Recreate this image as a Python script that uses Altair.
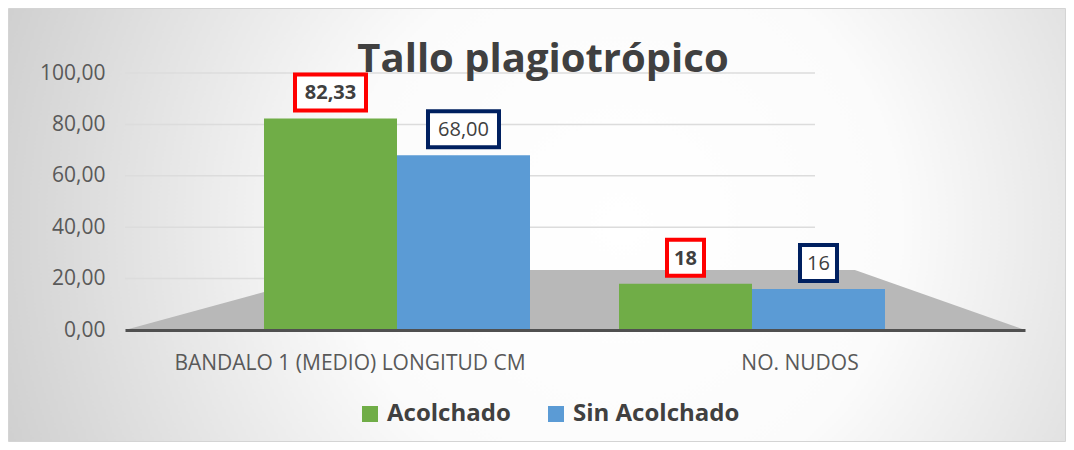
import altair as alt
import pandas as pd

# ---------------- data ----------------
categorias = ["BANDALO 1 (MEDIO) LONGITUD CM", "NO. NUDOS"]
series = ["Acolchado", "Sin Acolchado"]
acolchado = [82.33, 18]
sin_acolchado = [68.00, 16]
etiquetas_acolchado = ["82,33", "18"]
etiquetas_sin = ["68,00", "16"]
ticks_y = [0, 20, 40, 60, 80, 100]
titulo = "Tallo plagiotrópico"

rows = []
for i, c in enumerate(categorias):
    rows.append({"categoria": c, "serie": series[0], "valor": acolchado[i], "etiqueta": etiquetas_acolchado[i]})
    rows.append({"categoria": c, "serie": series[1], "valor": sin_acolchado[i], "etiqueta": etiquetas_sin[i]})
df = pd.DataFrame(rows)
grid_df = pd.DataFrame({"v": ticks_y[1:]})

# ---------------- styling ----------------
FONT = "Open Sans"
W, H = 900, 257
GREEN, BLUE = "#70AD47", "#5B9BD5"
TXT = "#404040"

y_scale = alt.Scale(domain=[0, 100], nice=False, zero=True)
yaxis = alt.Axis(values=ticks_y, title=None, labelExpr="replace(format(datum.value, '.2f'), '.', ',')",
                 labelFont=FONT, labelFontSize=21, labelColor="#595959", labelPadding=20,
                 ticks=False, tickSize=0, domain=False, grid=False, zindex=2)

x_bars = alt.X("categoria:N", scale=alt.Scale(type="band", domain=categorias, range=[94.5, 804.5],
                                               paddingInner=0, paddingOuter=0), axis=None)
xoff = alt.XOffset("serie:N", scale=alt.Scale(domain=series, paddingInner=0, paddingOuter=0.3346))

# background with radial gradient and border
bg = alt.Chart(alt.Data(values=[{}])).mark_rect(
    fill={"gradient": "radial", "x1": 0.58, "y1": 0.5, "r1": 0, "x2": 0.58, "y2": 0.5, "r2": 0.75,
          "stops": [{"offset": 0, "color": "#ffffff"}, {"offset": 0.35, "color": "#fbfbfb"},
                    {"offset": 1, "color": "#bfbfbf"}]},
    stroke="#d4d4d4", strokeWidth=1
).encode(x=alt.value(-116.5), x2=alt.value(940.5), y=alt.value(-64.5), y2=alt.value(368.5))

grid = alt.Chart(grid_df).mark_rule(color="#dcdcdc", strokeWidth=1.5).encode(
    y=alt.Y("v:Q", scale=y_scale, axis=yaxis), x=alt.value(0), x2=alt.value(690))

floor = alt.Chart(alt.Data(values=[{}])).mark_point(
    shape="M -1 0.0667 L -0.511 -0.0667 L 0.622 -0.0667 L 1 0.0667 Z", size=810000,
    filled=True, color="#b8b8b8", opacity=1, strokeWidth=0
).encode(x=alt.value(450), y=alt.value(227))

axis_layer = alt.Chart(df).mark_point(opacity=0).encode(
    x=alt.X("categoria:N", scale=alt.Scale(type="band", domain=categorias, paddingInner=0, paddingOuter=0),
            axis=alt.Axis(title=None, labelAngle=0, labelFont=FONT, labelFontSize=21, labelColor="#595959",
                          labelBaseline="alphabetic", labelPadding=39, ticks=False, tickSize=0,
                          domainColor="#505050", domainWidth=3, labelLimit=0, grid=False, zindex=2)),
    y=alt.Y("valor:Q", scale=y_scale, axis=yaxis))

bars = alt.Chart(df).mark_bar().encode(
    x=x_bars, xOffset=xoff,
    y=alt.Y("valor:Q", scale=y_scale, axis=yaxis),
    color=alt.Color("serie:N", scale=alt.Scale(domain=series, range=[GREEN, BLUE]),
                    legend=alt.Legend(orient="none", legendX=233, legendY=329, direction="horizontal",
                                      title=None, symbolType="square", symbolSize=256, symbolStrokeWidth=0,
                                      labelFont=FONT, labelFontSize=24, labelFontWeight="bold",
                                      labelColor=TXT, columnPadding=33, labelOffset=5, symbolOpacity=1,
                                      labelLimit=0, zindex=2)))

stroke_enc = alt.Stroke("serie:N", scale=alt.Scale(domain=series, range=["#FF0000", "#002060"]), legend=None)

box_wide = alt.Chart(df).transform_filter(alt.datum.categoria == categorias[0]).mark_point(
    shape="M -1 -0.507 L 1 -0.507 L 1 0.507 L -1 0.507 Z", size=5041, filled=True, fill="white",
    strokeWidth=4, opacity=1, yOffset=-26
).encode(x=x_bars, xOffset=xoff, y=alt.Y("valor:Q", scale=y_scale, axis=yaxis), stroke=stroke_enc)

box_narrow = alt.Chart(df).transform_filter(alt.datum.categoria == categorias[1]).mark_point(
    shape="M -1 -0.973 L 1 -0.973 L 1 0.973 L -1 0.973 Z", size=1369, filled=True, fill="white",
    strokeWidth=4, opacity=1, yOffset=-26
).encode(x=x_bars, xOffset=xoff, y=alt.Y("valor:Q", scale=y_scale, axis=yaxis), stroke=stroke_enc)

txt_bold = alt.Chart(df).transform_filter(alt.datum.serie == series[0]).mark_text(
    font=FONT, fontSize=20, fontWeight="bold", color=TXT, yOffset=-25, baseline="middle"
).encode(x=x_bars, xOffset=xoff, y=alt.Y("valor:Q", scale=y_scale, axis=yaxis), text="etiqueta:N")

txt_reg = alt.Chart(df).transform_filter(alt.datum.serie == series[1]).mark_text(
    font=FONT, fontSize=20, color=TXT, yOffset=-25, baseline="middle"
).encode(x=x_bars, xOffset=xoff, y=alt.Y("valor:Q", scale=y_scale, axis=yaxis), text="etiqueta:N")

title_text = alt.Chart(alt.Data(values=[{"t": titulo}])).mark_text(
    font=FONT, fontSize=40, fontWeight="bold", color=TXT, baseline="alphabetic", align="center"
).encode(x=alt.value(418), y=alt.value(-1), text="t:N")

inner = alt.layer(bars, box_wide, box_narrow, txt_bold, txt_reg)

chart = alt.layer(bg, grid, floor, axis_layer, inner, title_text).resolve_scale(
    x="independent"
).properties(
    width=W, height=H,
    autosize=alt.AutoSizeParams(type="none"),
    padding={"left": 117, "top": 65, "right": 41, "bottom": 112},
    background="white"
).configure_view(stroke=None)

chart.save("out.html", embed_options={"renderer": "svg", "actions": False})
